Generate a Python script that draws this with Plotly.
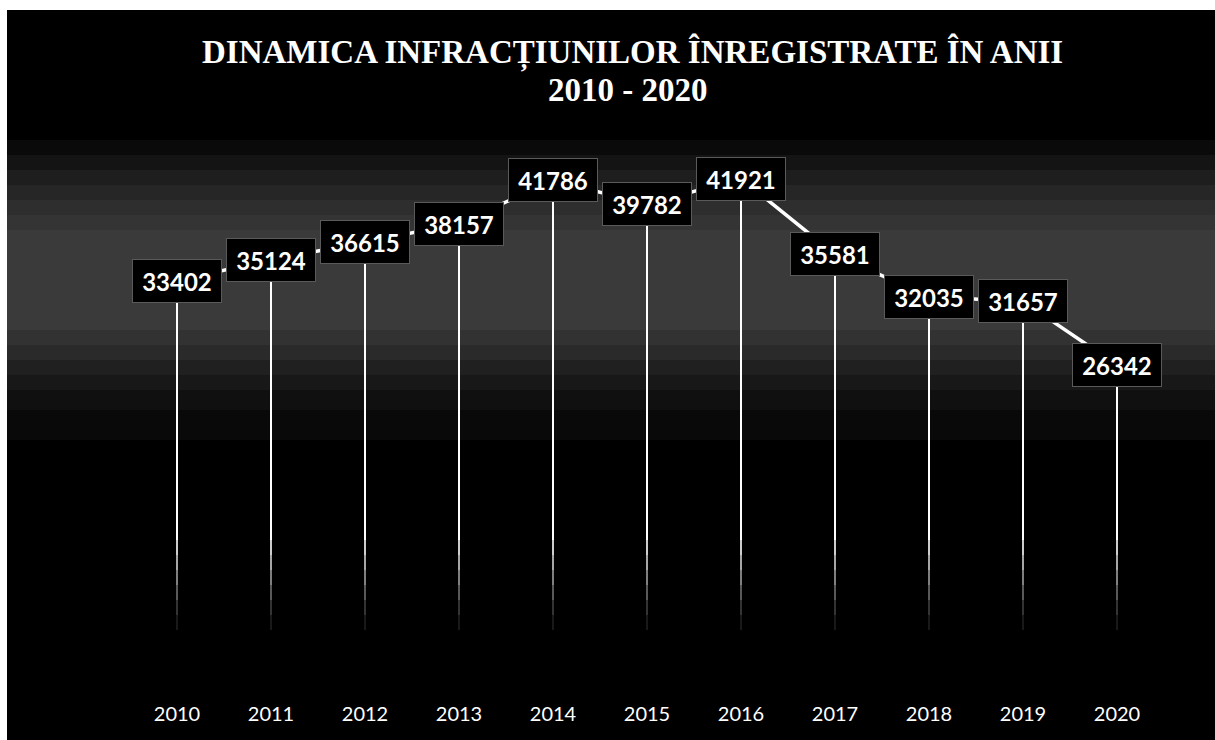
import plotly.graph_objects as go

# ---------------- data ----------------
years = ["2010", "2011", "2012", "2013", "2014", "2015", "2016", "2017", "2018", "2019", "2020"]
crimes = [33402, 35124, 36615, 38157, 41786, 39782, 41921, 35581, 32035, 31657, 26342]
title_line1 = "DINAMICA INFRACȚIUNILOR ÎNREGISTRATE ÎN ANII"
title_line2 = "2010 - 2020"

# ---------------- geometry helpers (styling) ----------------
EXTRA_W, EXTRA_H = 25, 20          # bleed past the window edge
W, H = 1215 + EXTRA_W, 740 + EXTRA_H
ML, MT = 130, 82
MR, MB = 51 + EXTRA_W, 60 + EXTRA_H
PW, PH = W - ML - MR, H - MT - MB


def px2x(px):
    return (px - ML) / PW


def py2y(py):
    return (H - MB - py) / PH


fig = go.Figure()

# drop lines from each point down to the axis
dx, dy = [], []
for yr, v in zip(years, crimes):
    dx += [yr, yr, None]
    dy += [v, 0, None]
fig.add_trace(go.Scatter(x=dx, y=dy, mode="lines",
                         line=dict(color="white", width=2),
                         hoverinfo="skip", showlegend=False))

# main line
fig.add_trace(go.Scatter(x=years, y=crimes, mode="lines",
                         line=dict(color="white", width=3.5),
                         showlegend=False))

shapes = []
# white page margins outside the chart frame (left and top)
shapes.append(dict(type="rect", xref="paper", yref="paper",
                   x0=px2x(-20), x1=px2x(7), y0=py2y(800), y1=py2y(-20),
                   fillcolor="white", line=dict(width=0), layer="below"))
shapes.append(dict(type="rect", xref="paper", yref="paper",
                   x0=px2x(-20), x1=px2x(1300), y0=py2y(10), y1=py2y(-20),
                   fillcolor="white", line=dict(width=0), layer="below"))
# lighter band in the background (gradient imitation)
bands = [(140, 155, 10), (155, 170, 20), (170, 185, 30), (185, 200, 38), (200, 215, 46),
         (215, 230, 52), (230, 330, 58), (330, 345, 50), (345, 360, 42), (360, 375, 32),
         (375, 390, 24), (390, 410, 16), (410, 440, 9)]
for y0, y1, g in bands:
    shapes.append(dict(type="rect", xref="paper", yref="paper",
                       x0=px2x(7), x1=px2x(1300), y0=py2y(y1), y1=py2y(y0),
                       fillcolor=f"rgb({g},{g},{g})", line=dict(width=0), layer="below"))
# fading of drop lines near the bottom
fades = [(540, 555, 0.2), (555, 570, 0.35), (570, 585, 0.5), (585, 600, 0.65),
         (600, 615, 0.8), (615, 630, 0.9), (630, 690, 1.0)]
for y0, y1, op in fades:
    shapes.append(dict(type="rect", xref="paper", yref="paper",
                       x0=px2x(125), x1=px2x(1170), y0=py2y(y1), y1=py2y(y0),
                       fillcolor="black", opacity=op, line=dict(width=0), layer="above"))

annotations = []
for i, v in enumerate(crimes):
    annotations.append(dict(x=i, y=v, xref="x", yref="y", text=f"<b>{v}</b>",
                            showarrow=False, xanchor="center", yanchor="middle",
                            font=dict(family="Lato", size=24, color="white"),
                            bgcolor="black", bordercolor="#5a5a5a", borderwidth=1,
                            borderpad=6, width=76, height=30))

annotations.append(dict(x=px2x(632), y=py2y(53), xref="paper", yref="paper",
                        text=f"<b>{title_line1}</b>", showarrow=False,
                        xanchor="center", yanchor="middle",
                        font=dict(family="Liberation Serif", size=33, color="white")))
annotations.append(dict(x=px2x(628), y=py2y(90), xref="paper", yref="paper",
                        text=f"<b>{title_line2}</b>", showarrow=False,
                        xanchor="center", yanchor="middle",
                        font=dict(family="Liberation Serif", size=33, color="white")))

fig.update_layout(
    width=W, height=H,
    margin=dict(l=ML, r=MR, t=MT, b=MB),
    paper_bgcolor="black",
    plot_bgcolor="rgba(0,0,0,0)",
    shapes=shapes,
    annotations=annotations,
    showlegend=False,
    xaxis=dict(type="category", range=[-0.5, 10.5], showgrid=False, zeroline=False,
               showline=False, ticks="", ticklabelstandoff=20,
               tickfont=dict(family="Lato", size=20, color="white")),
    yaxis=dict(range=[0, 50000], visible=False, showgrid=False, zeroline=False),
)

fig.write_html("out.html",
               config={"displayModeBar": False},
               post_script="document.body.style.margin='0';"
                           "document.body.style.overflow='hidden';")
